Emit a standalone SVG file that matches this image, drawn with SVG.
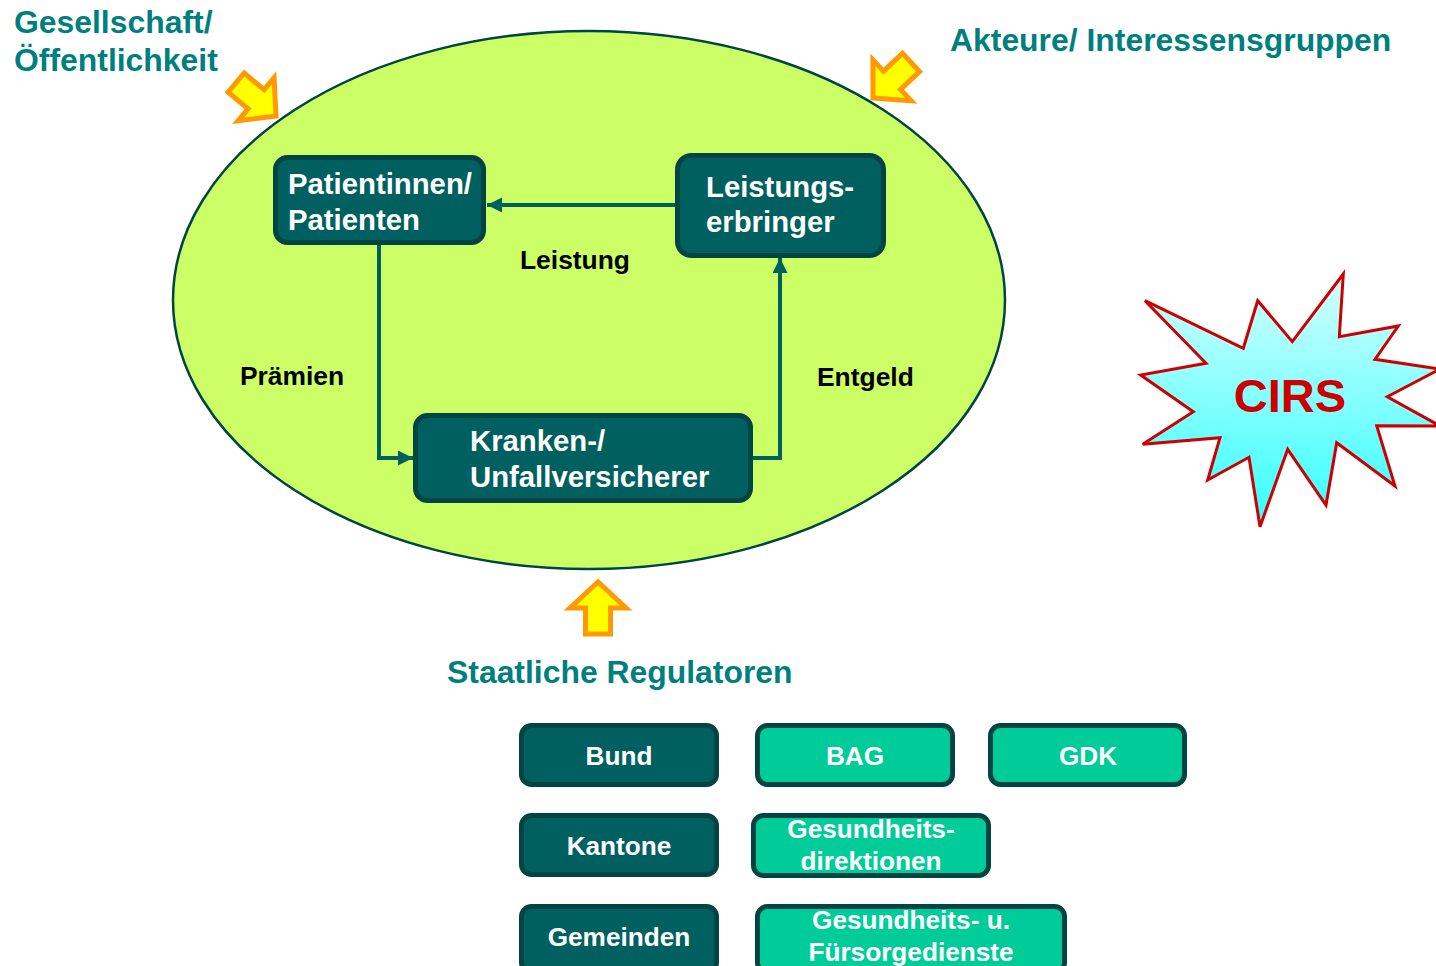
<svg xmlns="http://www.w3.org/2000/svg" width="1436" height="966" viewBox="0 0 1436 966">
<style>
text{font-family:"Liberation Sans",Arial,sans-serif;font-weight:bold}
.title{fill:#007F7F;font-size:31.9px}
.lbl{fill:#000;font-size:26.4px}
.dk{fill:#005F5F;stroke:#004444;stroke-width:5}
.lt{fill:#00CC99;stroke:#004444;stroke-width:5}
.bt{fill:#fff;font-size:29.3px}
.st{fill:#fff;font-size:26.2px;text-anchor:middle}
.blk{fill:#FFFF00;stroke:#FF9900;stroke-width:5;stroke-linejoin:miter}
.con{fill:none;stroke:#006060;stroke-width:4;marker-end:url(#ah)}
</style>
<defs>
<marker id="ah" markerUnits="userSpaceOnUse" markerWidth="16" markerHeight="16" refX="15" refY="7.5" orient="auto">
<path d="M0,0 L15,7.5 L0,15 z" fill="#006060"/>
</marker>
<linearGradient id="sg" x1="0" y1="0" x2="0" y2="1">
<stop offset="0" stop-color="#D4FFFF"/>
<stop offset="1" stop-color="#33FFFF"/>
</linearGradient>
<path id="barrow" d="M0,0 L-26,-28 L-26,-12.5 L-52,-12.5 L-52,12.5 L-26,12.5 L-26,28 Z"/>
</defs>
<rect width="1436" height="966" fill="#fff"/>
<g id="ellipse">
<ellipse cx="589" cy="300" rx="416" ry="269" fill="#CCFF66" stroke="#004444" stroke-width="2.5"/>
</g>
<g id="titles">
<text class="title" x="14" y="33">Gesellschaft/</text>
<text class="title" x="14" y="71">Öffentlichkeit</text>
<text class="title" x="950" y="51">Akteure/ Interessensgruppen</text>
<text class="title" x="447" y="683">Staatliche Regulatoren</text>
</g>
<g id="block-arrows">
<use href="#barrow" class="blk" transform="translate(276,116) rotate(40)"/>
<use href="#barrow" class="blk" transform="translate(873,98) rotate(137)"/>
<use href="#barrow" class="blk" transform="translate(598,582) rotate(-90)"/>
</g>
<g id="connectors">
<path class="con" d="M675,205 L487,205"/>
<path class="con" d="M379,245 L379,458 L413,458"/>
<path class="con" d="M753,458 L780,458 L780,258"/>
</g>
<g id="labels">
<text class="lbl" x="520" y="269">Leistung</text>
<text class="lbl" x="240" y="385">Prämien</text>
<text class="lbl" x="817" y="386">Entgeld</text>
</g>
<g id="patienten">
<rect class="dk" x="275.5" y="157.5" width="208" height="85" rx="12"/>
<text class="bt" x="288" y="194">Patientinnen/</text>
<text class="bt" x="288" y="230">Patienten</text>
</g>
<g id="leistungserbringer">
<rect class="dk" x="677.5" y="155.5" width="206" height="100" rx="14"/>
<text class="bt" x="706" y="197">Leistungs-</text>
<text class="bt" x="706" y="232">erbringer</text>
</g>
<g id="versicherer">
<rect class="dk" x="415.5" y="415.5" width="335" height="85" rx="12"/>
<text class="bt" x="470" y="451">Kranken-/</text>
<text class="bt" x="470" y="487">Unfallversicherer</text>
</g>
<g id="cirs">
<polygon points="1145,300.7 1243.3,348.3 1257.7,300.7 1292.3,341.7 1343.3,274 1339.3,336.7 1398.3,326 1375,359.3 1440,369 1387.3,396.7 1440,426 1376.7,425.7 1395,486 1336.7,442.7 1326,505 1287.7,449.3 1260,526.7 1249,457.3 1207.7,480 1220,437.7 1142.7,444.3 1193.3,411.7 1140.7,375 1206,363.3" fill="url(#sg)" stroke="#CC0000" stroke-width="3" stroke-linejoin="miter"/>
<text x="1290" y="412" fill="#CC0000" font-size="47" text-anchor="middle">CIRS</text>
</g>
<g id="bund">
<rect class="dk" x="521.5" y="725.5" width="195" height="59" rx="10"/>
<text class="st" x="619" y="765">Bund</text>
</g>
<g id="bag">
<rect class="lt" x="757.5" y="725.5" width="195" height="59" rx="10"/>
<text class="st" x="855" y="765">BAG</text>
</g>
<g id="gdk">
<rect class="lt" x="990.5" y="725.5" width="194" height="59" rx="10"/>
<text class="st" x="1088" y="765">GDK</text>
</g>
<g id="kantone">
<rect class="dk" x="521.5" y="815.5" width="195" height="59" rx="10"/>
<text class="st" x="619" y="855">Kantone</text>
</g>
<g id="gesundheitsdirektionen">
<rect class="lt" x="753.5" y="815.5" width="235" height="60" rx="10"/>
<text class="st" x="871" y="838">Gesundheits-</text>
<text class="st" x="871" y="870">direktionen</text>
</g>
<g id="gemeinden">
<rect class="dk" x="521.5" y="906.5" width="195" height="66" rx="10"/>
<text class="st" x="619" y="946">Gemeinden</text>
</g>
<g id="fuersorge">
<rect class="lt" x="757.5" y="906.5" width="307" height="66" rx="10"/>
<text class="st" x="911" y="929">Gesundheits- u.</text>
<text class="st" x="911" y="961">Fürsorgedienste</text>
</g>
</svg>
